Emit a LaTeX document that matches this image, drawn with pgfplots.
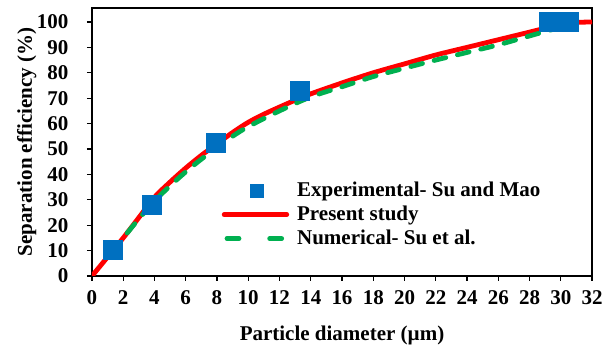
\documentclass[border=0pt]{standalone}
\usepackage{fontspec}
\setmainfont{Liberation Serif}
\usepackage{pgfplots}
\pgfplotsset{compat=1.18}
\usetikzlibrary{calc}
\definecolor{eblue}{RGB}{0,112,192}
\definecolor{ered}{RGB}{255,0,0}
\definecolor{egreen}{RGB}{0,176,80}
\newcommand{\tlf}{\fontsize{21}{24}\selectfont\bfseries}
\begin{document}
\begin{tikzpicture}
\begin{axis}[
  scale only axis, width=500pt, height=268pt,
  xmin=0, xmax=32, ymin=0, ymax=105.5,
  xtick={0,2,...,32}, ytick={0,10,...,100},
  axis line style={line width=1.3pt},
  tick style={line width=1.2pt, black},
  tick align=outside, major tick length=5pt,
  xtick pos=bottom, ytick pos=left,
  font=\fontsize{21}{24}\selectfont\bfseries,
  xticklabel={\tlf\pgfmathprintnumber[assume math mode=true]{\tick}},
  yticklabel={\tlf\pgfmathprintnumber[assume math mode=true]{\tick}},
  xticklabel style={yshift=-6pt},
  yticklabel style={xshift=-15pt},
  xlabel={Particle diameter (µm)},
  ylabel={Separation efficiency (\%)},
  xlabel style={at={(axis description cs:0.5,0)}, anchor=north, yshift=-46pt},
  ylabel style={at={(axis description cs:0,0.5)}, anchor=south, yshift=52pt},
  legend style={draw=none, fill=none, at={(axis cs:8.1,38.6)}, anchor=north west,
    font=\fontsize{21}{24}\selectfont\bfseries, row sep=3pt,
    nodes={text height=15pt, text depth=4pt, inner sep=1pt},
    /tikz/every odd column/.append style={column sep=7pt}},
  legend cell align=left,
]
\coordinate (O) at (rel axis cs:0,0);
\addplot[only marks, mark=square*, mark size=9.5pt, color=eblue,
  legend image code/.code={\fill[eblue] (0.55cm-6.5pt,-6.5pt) rectangle (0.55cm+6.5pt,6.5pt);}]
  coordinates {(1.35,10.5) (3.8,28.2) (7.9,52.3) (13.3,73) (29.2,100) (30.5,100)};
\addlegendentry{Experimental- Su and Mao}
\addplot[smooth, color=ered, line width=4.8pt,
  legend image code/.code={\draw[ered, line width=4.8pt, line cap=round] (-0.6cm,0) -- (1.6cm,0);}]
  coordinates {(0,0) (1,7.5) (2,15) (3,23) (4,31) (5,37) (6,42.5) (7,47.5) (8,52) (9,56.5) (10,60.5) (11,63.7) (12,66.5) (13,69.2) (14,71.7) (16,76) (18,80) (20,83.5) (22,87) (24,90) (26,93) (28,96) (30,99) (31,99.8) (32,100)};
\addlegendentry{Present study}
\addplot[smooth, color=egreen, line width=4.8pt, line cap=round, dash pattern=on 12pt off 12pt,
  legend image code/.code={\draw[egreen, line width=4.8pt, line cap=round] (-0.5cm,0) -- (0.05cm,0) (1.0cm,0) -- (1.55cm,0);}]
  coordinates {(1.3,9.5) (2,15) (3,22.5) (4,29.5) (5,35.5) (6,41) (7,46) (8,50.5) (9,55) (10,58.8) (12,65) (14,70.5) (16,74.5) (18,78.5) (20,81.8) (22,85) (24,88) (26,91) (28,94.5) (30,98) (30.6,99.5)};
\addlegendentry{Numerical- Su et al.}
\end{axis}
\useasboundingbox ($(O)+(-92pt,-74pt)$) rectangle ++(611pt,350pt);
\end{tikzpicture}
\end{document}
